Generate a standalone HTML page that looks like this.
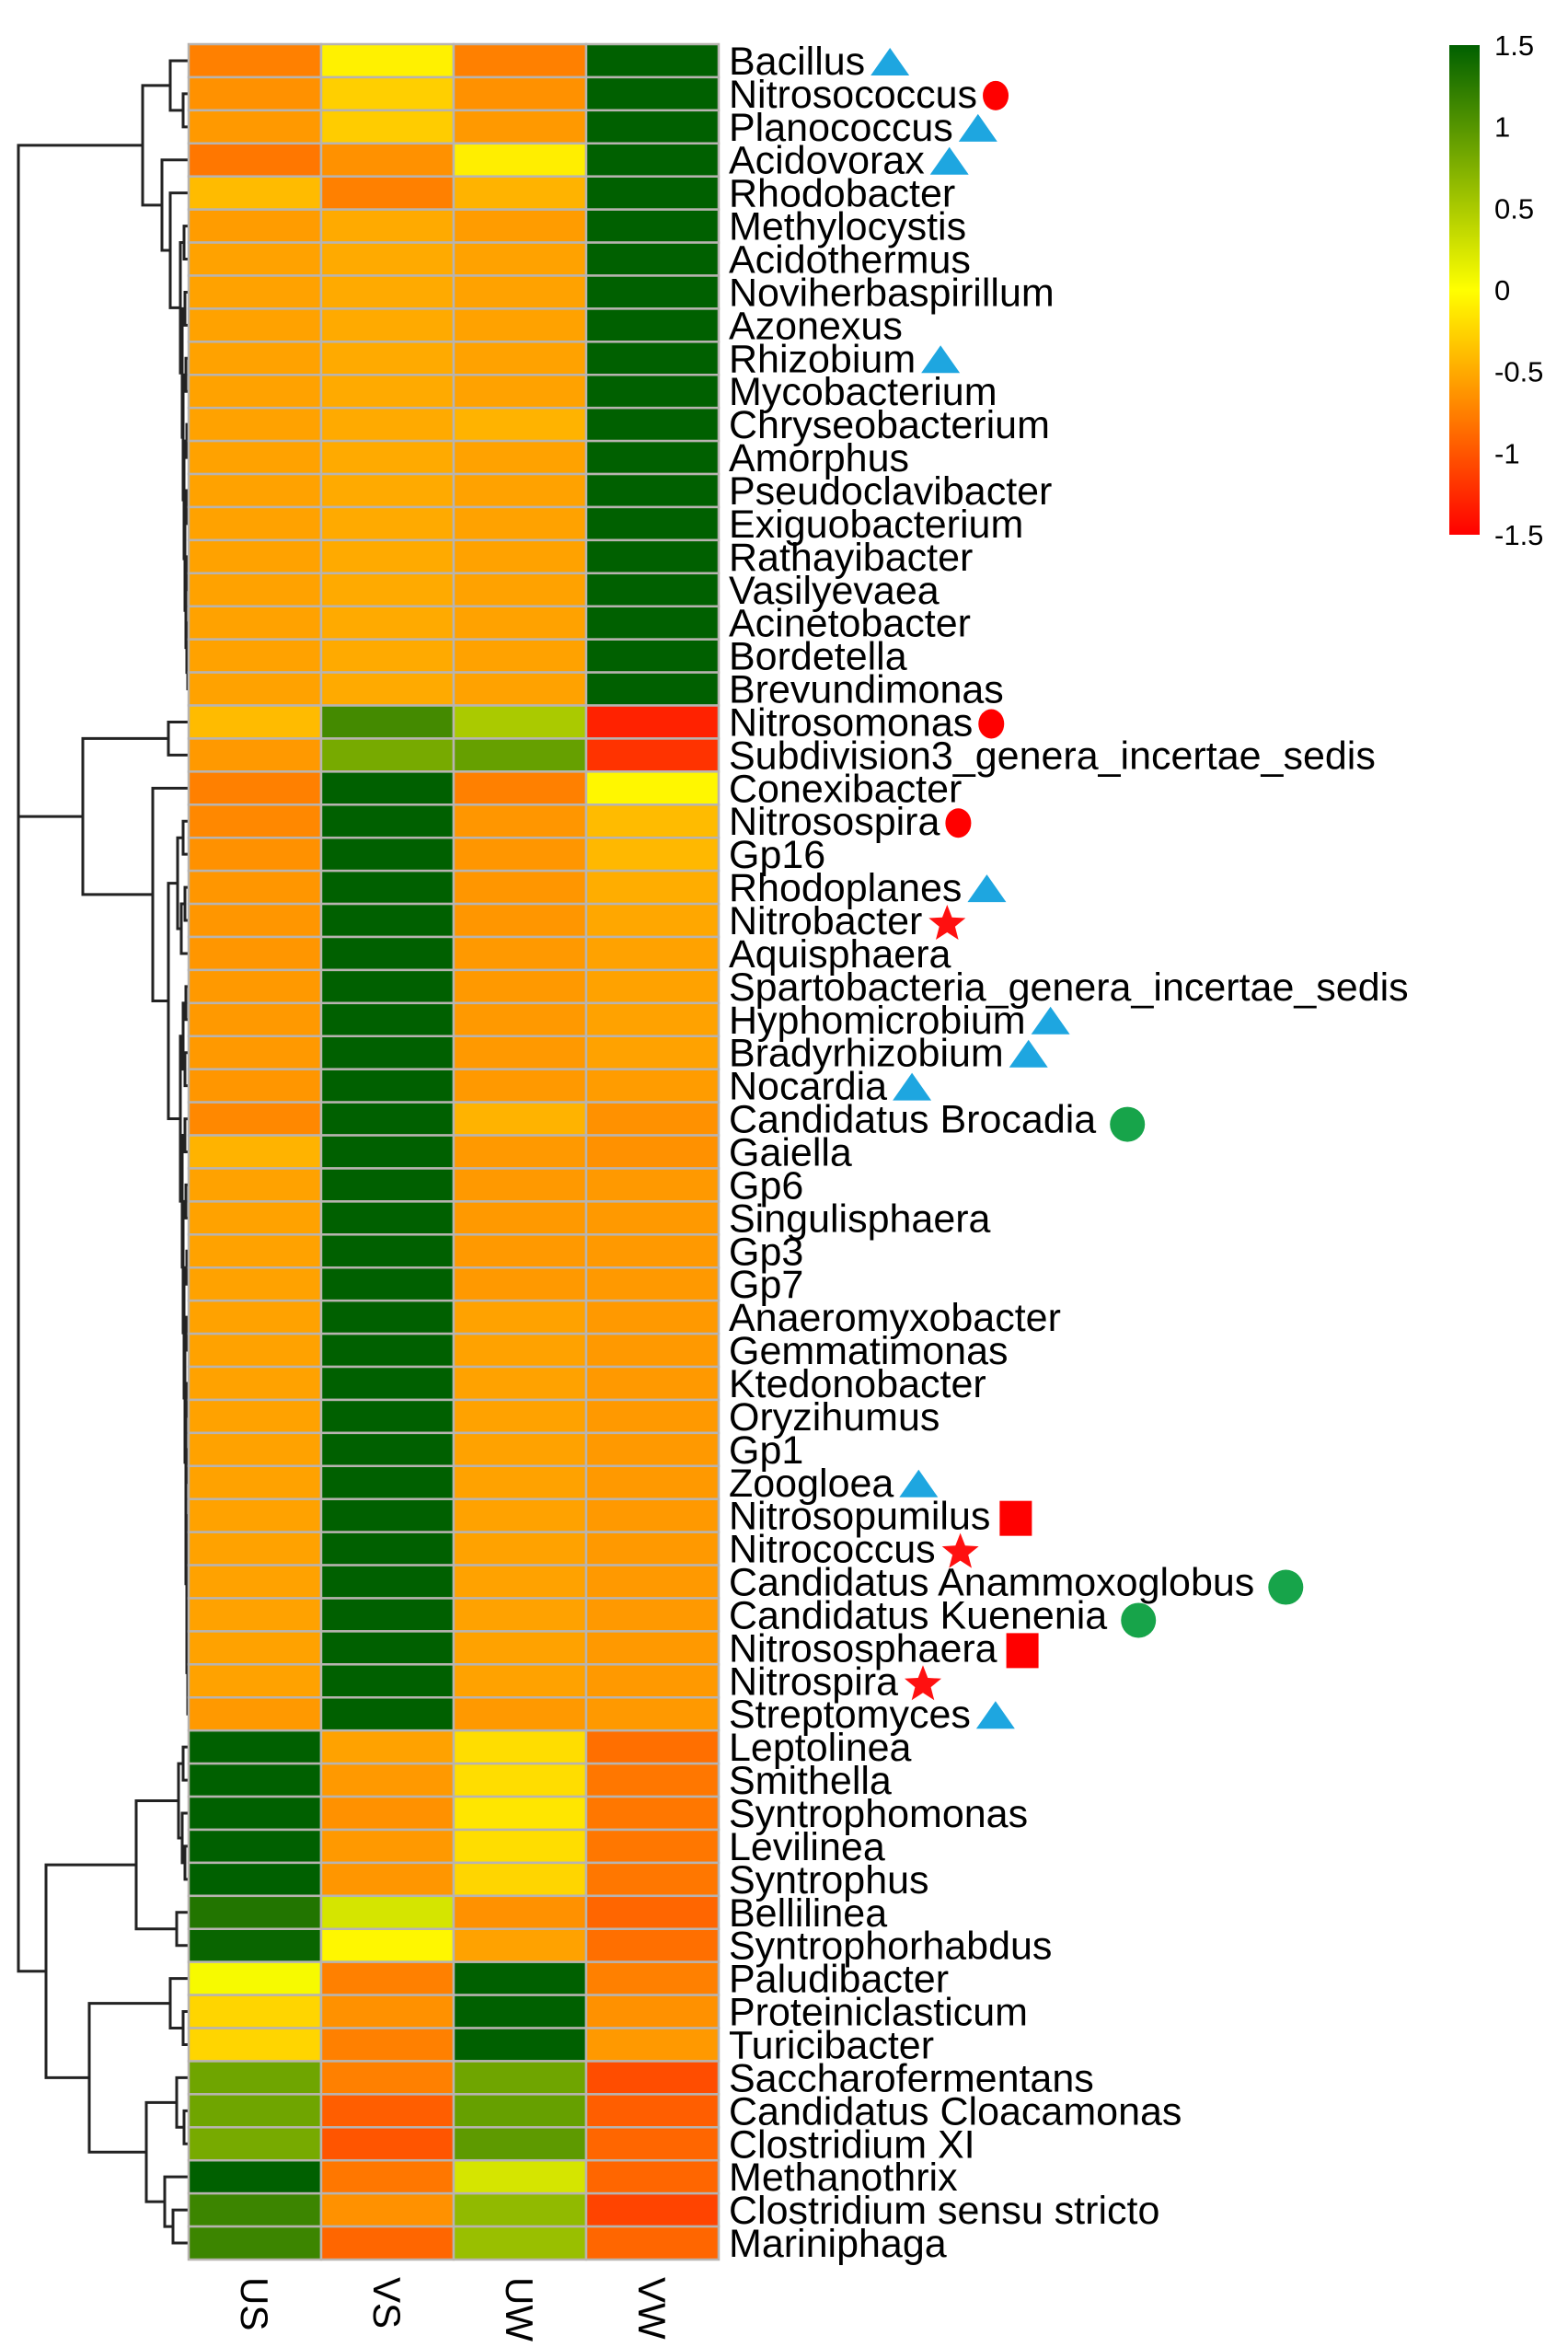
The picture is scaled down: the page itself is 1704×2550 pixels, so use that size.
<!DOCTYPE html>
<html><head><meta charset="utf-8">
<style>
html,body{margin:0;padding:0;background:#fff;}
svg{display:block;}
text{font-family:"Liberation Sans",Arial,sans-serif;fill:#000;}
</style></head>
<body>
<svg id="chart" width="1704" height="2550" viewBox="0 0 1704 2550" xmlns="http://www.w3.org/2000/svg">
<defs>
<linearGradient id="cbgrad" x1="0" y1="0" x2="0" y2="1">
<stop offset="0" stop-color="#006000"/>
<stop offset="0.25" stop-color="#80b000"/>
<stop offset="0.5" stop-color="#ffff00"/>
<stop offset="0.75" stop-color="#ff8000"/>
<stop offset="1" stop-color="#ff0000"/>
</linearGradient>
</defs>
<g id="dendro"></g>
<g id="cells"></g>
<g id="rowlabels"></g>
<g id="markers"></g>
<g id="collabels"></g>
<g id="legend">
<rect x="1575" y="49" width="33" height="532" fill="url(#cbgrad)"/>
</g>
</svg>
<script>
const columns = ["US","VS","UW","VW"];
const genera = ["Bacillus","Nitrosococcus","Planococcus","Acidovorax","Rhodobacter","Methylocystis","Acidothermus","Noviherbaspirillum","Azonexus","Rhizobium","Mycobacterium","Chryseobacterium","Amorphus","Pseudoclavibacter","Exiguobacterium","Rathayibacter","Vasilyevaea","Acinetobacter","Bordetella","Brevundimonas","Nitrosomonas","Subdivision3_genera_incertae_sedis","Conexibacter","Nitrosospira","Gp16","Rhodoplanes","Nitrobacter","Aquisphaera","Spartobacteria_genera_incertae_sedis","Hyphomicrobium","Bradyrhizobium","Nocardia","Candidatus Brocadia","Gaiella","Gp6","Singulisphaera","Gp3","Gp7","Anaeromyxobacter","Gemmatimonas","Ktedonobacter","Oryzihumus","Gp1","Zoogloea","Nitrosopumilus","Nitrococcus","Candidatus Anammoxoglobus","Candidatus Kuenenia","Nitrososphaera","Nitrospira","Streptomyces","Leptolinea","Smithella","Syntrophomonas","Levilinea","Syntrophus","Bellilinea","Syntrophorhabdus","Paludibacter","Proteiniclasticum","Turicibacter","Saccharofermentans","Candidatus Cloacamonas","Clostridium XI","Methanothrix","Clostridium sensu stricto","Mariniphaga"];
const valuesUS = [-0.75,-0.65,-0.6,-0.8,-0.4,-0.58,-0.55,-0.55,-0.55,-0.55,-0.55,-0.55,-0.55,-0.55,-0.55,-0.55,-0.55,-0.55,-0.55,-0.55,-0.4,-0.6,-0.75,-0.7,-0.65,-0.62,-0.62,-0.62,-0.6,-0.6,-0.6,-0.62,-0.7,-0.45,-0.55,-0.55,-0.55,-0.55,-0.55,-0.55,-0.55,-0.55,-0.55,-0.55,-0.55,-0.55,-0.55,-0.55,-0.55,-0.55,-0.6,1.5,1.5,1.5,1.5,1.5,1.3,1.45,0.05,-0.25,-0.25,0.85,0.85,0.8,1.5,1.15,1.15];
const valuesVS = [-0.08,-0.28,-0.3,-0.65,-0.75,-0.5,-0.5,-0.5,-0.5,-0.5,-0.5,-0.5,-0.5,-0.5,-0.5,-0.5,-0.5,-0.5,-0.5,-0.5,1.1,0.8,1.5,1.5,1.5,1.5,1.5,1.5,1.5,1.5,1.5,1.5,1.5,1.5,1.5,1.5,1.5,1.5,1.5,1.5,1.5,1.5,1.5,1.5,1.5,1.5,1.5,1.5,1.5,1.5,1.5,-0.55,-0.6,-0.65,-0.6,-0.62,0.25,-0.05,-0.75,-0.65,-0.75,-0.75,-0.95,-1.0,-0.8,-0.65,-0.9];
const valuesUW = [-0.75,-0.65,-0.6,-0.1,-0.45,-0.58,-0.55,-0.55,-0.55,-0.55,-0.55,-0.45,-0.55,-0.55,-0.55,-0.55,-0.55,-0.55,-0.55,-0.55,0.5,0.9,-0.75,-0.62,-0.62,-0.62,-0.62,-0.6,-0.6,-0.6,-0.6,-0.6,-0.45,-0.6,-0.6,-0.6,-0.6,-0.6,-0.55,-0.55,-0.55,-0.55,-0.55,-0.55,-0.55,-0.55,-0.55,-0.55,-0.55,-0.55,-0.6,-0.2,-0.2,-0.15,-0.2,-0.25,-0.65,-0.55,1.5,1.5,1.5,0.85,0.9,0.95,0.25,0.65,0.6];
const valuesVW = [1.5,1.5,1.5,1.5,1.5,1.5,1.5,1.5,1.5,1.5,1.5,1.5,1.5,1.5,1.5,1.5,1.5,1.5,1.5,1.5,-1.3,-1.2,-0.05,-0.4,-0.42,-0.48,-0.52,-0.55,-0.55,-0.55,-0.55,-0.58,-0.65,-0.65,-0.6,-0.6,-0.6,-0.6,-0.6,-0.6,-0.6,-0.6,-0.6,-0.6,-0.6,-0.6,-0.6,-0.6,-0.6,-0.6,-0.6,-0.85,-0.8,-0.8,-0.8,-0.8,-0.9,-0.85,-0.75,-0.65,-0.6,-1.05,-0.95,-0.9,-0.9,-1.1,-0.9];
const legendTicks = [1.5,1,0.5,0,-0.5,-1,-1.5];
const legendTickLabels = ["1.5","1","0.5","0","-0.5","-1","-1.5"];
// dendrogram: [mergeX, left, right] ; leaves are row indices
const dendroTree = [20,
 [155, [185, 0, [199, 1, 2]],
       [176, 3, [185, 4, [196, [200, 5, 6], [198, [201, 7, 8], [199, [202, 9, 10], [200, [203, 11, 12], [201, [203, 13, 14], [202, [203, 15, 16], [203, 17, [204, 18, 19]]]]]]]]]]],
 [20,
  [90, [183, 20, 21],
       [166, 22, [183, [193, [199, 23, 24], [197, [201, 25, 26], 27]],
                       [196, [199, [202, 28, 29], [201, 30, 31]],
                             [198, [201, 32, 33], [199, [202, 34, 35], [200, [203, 36, 37], [201, [203, 38, 39], [202, [203, 40, 41], [202, [203, 42, 43], [203, [204, 44, 45], [203, [204, 46, 47], [204, 48, [204, 49, 50]]]]]]]]]]]]]],
  [50, [148, [194, [199, 51, 52], [198, 53, [201, 54, 55]]], [192, 56, 57]],
       [97, [185, 58, [199, 59, 60]],
            [159, [192, 61, [200, 62, 63]], [179, 64, [188, 65, 66]]]]]]];
const rowMarkers = [["Bacillus","tri"],["Nitrosococcus","rc"],["Planococcus","tri"],["Acidovorax","tri"],["Rhizobium","tri"],["Nitrosomonas","rc"],["Nitrosospira","rc"],["Rhodoplanes","tri"],["Nitrobacter","star"],["Hyphomicrobium","tri"],["Bradyrhizobium","tri"],["Nocardia","tri"],["Candidatus Brocadia","gc"],["Zoogloea","tri"],["Nitrosopumilus","sq"],["Nitrococcus","star"],["Candidatus Anammoxoglobus","gc"],["Candidatus Kuenenia","gc"],["Nitrososphaera","sq"],["Nitrospira","star"],["Streptomyces","tri"]];

const NS = "http://www.w3.org/2000/svg";
const X0 = 205, X1 = 781, Y0 = 48, Y1 = 2455;
const FS = 43;
const colW = (X1 - X0) / columns.length;
const rowH = (Y1 - Y0) / genera.length;
const xCol = i => X0 + colW * i;
const yRow = i => Y0 + rowH * i;
const LY0 = 49, LY1 = 581;
const yLegend = v => LY0 + (1.5 - v) / 3 * (LY1 - LY0);
function mk(tag, attrs, parent) { const e = document.createElementNS(NS, tag); for (const k in attrs) e.setAttribute(k, attrs[k]); parent.appendChild(e); return e; }
function lerp(a, b, t) { return Math.round(a + (b - a) * t); }
function colorFor(v) {
  v = Math.max(-1.5, Math.min(1.5, v));
  let r, g, b;
  if (v <= 0) { const t = (v + 1.5) / 1.5; r = 255; g = lerp(0, 255, t); b = 0; }
  else { const t = v / 1.5; r = lerp(255, 0, t); g = lerp(255, 96, t); b = 0; }
  return `rgb(${r},${g},${b})`;
}
const series = [valuesUS, valuesVS, valuesUW, valuesVW];
const cells = document.getElementById('cells');
series.forEach((vals, c) => {
  vals.forEach((v, r) => {
    const rect = mk('rect', {x: xCol(c), y: yRow(r), width: colW, height: rowH, fill: colorFor(v), stroke: '#b8b4b0', 'stroke-width': 2.5}, cells);
    
    
  });
});
const rl = document.getElementById('rowlabels');
genera.forEach((g, r) => {
  const t = mk('text', {x: 792, y: yRow(r) + rowH / 2 + 15, 'font-size': FS}, rl);
  t.textContent = g;
  
  
});
const cl = document.getElementById('collabels');
columns.forEach((c, i) => {
  const cx = xCol(i) + colW / 2;
  const t = mk('text', {x: 0, y: 0, 'font-size': 42, transform: `translate(${cx - 15},2474) rotate(90)`}, cl);
  t.textContent = c;
  
  
});
const dg = document.getElementById('dendro');
function drawNode(n) {
  if (typeof n === 'number') return {x: X0, y: yRow(n) + rowH / 2};
  const a = drawNode(n[1]), b = drawNode(n[2]);
  const h = n[0];
  const p = mk('path', {d: `M${a.x},${a.y}H${h}V${b.y}H${b.x}`, fill: 'none', stroke: '#222', 'stroke-width': 3}, dg);
  
  
  return {x: h, y: (a.y + b.y) / 2};
}
drawNode(dendroTree);
const mg = document.getElementById('markers');
const meas = document.createElementNS(NS, 'text');
meas.setAttribute('font-size', FS); meas.setAttribute('x', 0); meas.setAttribute('y', -100);
document.getElementById('chart').appendChild(meas);
rowMarkers.forEach(([name, kind]) => {
  const r = genera.indexOf(name);
  meas.textContent = name;
  const w = meas.getComputedTextLength();
  const cy = yRow(r) + rowH / 2 + 2;
  let x = 792 + w + 6;
  let el;
  if (kind === 'tri') { el = mk('polygon', {points: `${x},${cy + 14} ${x + 42},${cy + 14} ${x + 21},${cy - 16}`, fill: '#1ea6e0'}, mg); }
  else if (kind === 'rc') { el = mk('ellipse', {cx: x + 14, cy: cy, rx: 14, ry: 16, fill: '#ff0000'}, mg); }
  else if (kind === 'gc') { el = mk('ellipse', {cx: x + 28, cy: cy + 4, rx: 19, ry: 19, fill: '#17a44a'}, mg); }
  else if (kind === 'sq') { el = mk('rect', {x: x + 4, y: cy - 18, width: 35, height: 38, fill: '#ff0000'}, mg); }
  else {
    const cx = x + 21, R = 21, ri = 9; let pts = [];
    for (let k = 0; k < 10; k++) { const ang = -Math.PI / 2 + k * Math.PI / 5; const rr = k % 2 ? ri : R; pts.push((cx + rr * Math.cos(ang)).toFixed(1) + ',' + (cy + 2 + rr * Math.sin(ang)).toFixed(1)); }
    el = mk('polygon', {points: pts.join(' '), fill: '#ff1010'}, mg);
  }
  
  
});
meas.remove();
const lg = document.getElementById('legend');
legendTicks.forEach((v, i) => {
  const t = mk('text', {x: 1624, y: yLegend(v) + 11, 'font-size': 31}, lg);
  t.textContent = legendTickLabels[i];
  
  
});
</script>
</body></html>
